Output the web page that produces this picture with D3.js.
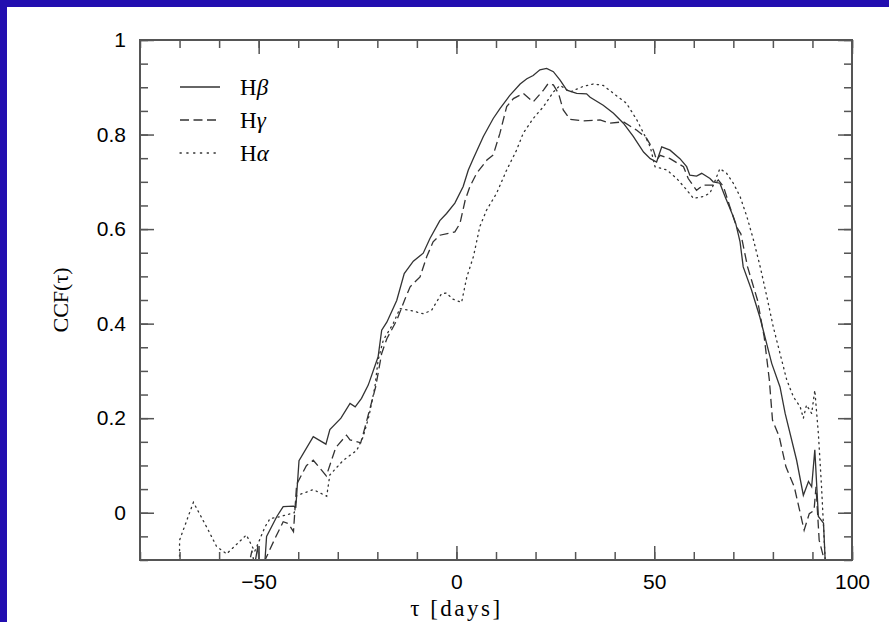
<!DOCTYPE html>
<html>
<head>
<meta charset="utf-8">
<script src="https://cdn.jsdelivr.net/npm/d3@7"></script>
<style>
  body { margin: 0; background: #220eb0; }
  svg { display: block; }
  .tick text { font-family: "Liberation Sans", Arial, sans-serif; font-size: 21px; fill: #000; }
  .tick line { stroke: #555; stroke-width: 1.5; }
  .domain { display: none; }
</style>
</head>
<body>
<div id="chart"></div>
<script>
// lag values (days) and CCF values, one pair of arrays per line
var hbLag = [-52, -50.2, -49.6, -48.4, -48.0, -45.4, -43.8, -41.2, -40.6, -39.8, -36.2, -33.0, -32.0, -29.2, -26.9, -25.6, -24.0, -22.3, -19.8, -18.9, -17.6, -15.1, -13.2, -10.9, -8.4, -6.7, -4.2, -2.5, -0.4, 1.7, 3.0, 4.3, 6.8, 9.3, 11.0, 13.5, 16.1, 17.8, 19.4, 21.1, 22.8, 24.5, 26.2, 27.9, 30.4, 32.9, 33.8, 37.1, 39.7, 42.2, 44.7, 47.3, 49.0, 50.6, 51.9, 54.0, 56.5, 58.2, 59.0, 60.7, 62.0, 64.1, 64.9, 66.6, 67.9, 70.0, 70.6, 71.7, 72.5, 74.6, 76.7, 79.7, 81.8, 83.1, 86.0, 87.7, 89.0, 89.8, 90.6, 91.5, 92.8, 93.2, 93.5];
var hbCcf = [-0.16, -0.07, -0.15, -0.10, -0.05, -0.008, 0.013, 0.014, 0.012, 0.11, 0.161, 0.145, 0.176, 0.2, 0.231, 0.224, 0.242, 0.27, 0.33, 0.386, 0.403, 0.449, 0.506, 0.532, 0.549, 0.58, 0.618, 0.633, 0.655, 0.69, 0.725, 0.75, 0.796, 0.834, 0.855, 0.883, 0.907, 0.918, 0.925, 0.937, 0.94, 0.933, 0.915, 0.894, 0.887, 0.886, 0.879, 0.862, 0.845, 0.824, 0.796, 0.763, 0.749, 0.742, 0.774, 0.767, 0.749, 0.732, 0.714, 0.712, 0.718, 0.707, 0.7, 0.697, 0.669, 0.626, 0.612, 0.573, 0.52, 0.471, 0.414, 0.316, 0.266, 0.21, 0.111, 0.037, 0.066, 0.055, 0.133, -0.008, -0.022, -0.097, -0.2];

var hgLag = [-53.5, -51.7, -50.5, -48.0, -45.9, -43.8, -42.5, -41.2, -40.4, -37.9, -36.2, -34.1, -32.9, -30.5, -27.8, -26.9, -24.2, -23.3, -20.4, -18.9, -17.6, -15.1, -13.0, -11.7, -9.2, -7.5, -5.9, -4.2, -0.4, 0.9, 2.2, 3.4, 5.1, 7.7, 9.3, 11.0, 12.7, 14.4, 16.9, 19.4, 22.0, 23.2, 24.5, 25.8, 27.0, 28.7, 32.1, 36.3, 38.8, 42.2, 45.6, 48.1, 49.8, 50.6, 51.5, 54.0, 57.4, 58.6, 60.7, 62.4, 64.9, 66.2, 67.5, 69.1, 70.8, 71.9, 73.6, 76.1, 77.8, 79.1, 79.9, 81.6, 83.3, 85.4, 87.9, 89.2, 90.4, 90.9, 91.7, 92.9, 93.2];
var hgCcf = [-0.15, -0.08, -0.14, -0.093, -0.055, -0.019, -0.023, -0.04, 0.06, 0.1, 0.111, 0.09, 0.078, 0.138, 0.164, 0.154, 0.148, 0.175, 0.267, 0.337, 0.368, 0.407, 0.452, 0.478, 0.499, 0.542, 0.573, 0.587, 0.594, 0.612, 0.661, 0.69, 0.718, 0.746, 0.757, 0.803, 0.859, 0.876, 0.887, 0.869, 0.894, 0.908, 0.905, 0.887, 0.852, 0.832, 0.829, 0.831, 0.824, 0.827, 0.809, 0.792, 0.767, 0.746, 0.756, 0.749, 0.732, 0.707, 0.682, 0.693, 0.693, 0.704, 0.69, 0.648, 0.605, 0.59, 0.52, 0.45, 0.372, 0.281, 0.196, 0.161, 0.097, 0.055, -0.037, -0.002, 0.005, 0.055, -0.058, -0.097, -0.2];

var haLag = [-70.0, -70.0, -66.5, -63.1, -60.6, -58.1, -53.1, -51.0, -48.4, -47.1, -45.4, -41.0, -40.4, -36.2, -32.8, -32.0, -28.6, -25.2, -23.6, -22.1, -20.6, -19.8, -18.5, -16.0, -14.3, -11.7, -8.4, -6.3, -3.8, -2.5, -1.0, 1.3, 2.6, 4.3, 5.9, 7.6, 10.1, 12.7, 15.2, 16.9, 19.4, 22.0, 24.5, 26.2, 28.7, 32.1, 34.6, 37.1, 39.7, 43.0, 45.6, 47.3, 49.0, 50.2, 53.2, 55.7, 58.2, 59.9, 62.4, 64.1, 65.8, 66.6, 68.3, 70.0, 71.7, 73.4, 75.1, 76.8, 78.4, 80.1, 81.8, 83.5, 85.2, 86.9, 87.7, 88.5, 89.8, 90.6, 91.5, 92.3, 93.2, 93.4];
var haCcf = [-0.15, -0.058, 0.022, -0.031, -0.072, -0.087, -0.047, -0.082, -0.03, -0.012, -0.01, 0.0, 0.036, 0.049, 0.035, 0.08, 0.111, 0.132, 0.16, 0.205, 0.267, 0.323, 0.365, 0.4, 0.432, 0.428, 0.421, 0.428, 0.463, 0.465, 0.452, 0.445, 0.498, 0.542, 0.605, 0.64, 0.675, 0.725, 0.767, 0.803, 0.834, 0.859, 0.89, 0.904, 0.89, 0.902, 0.907, 0.904, 0.887, 0.866, 0.831, 0.803, 0.774, 0.732, 0.725, 0.707, 0.683, 0.665, 0.669, 0.676, 0.711, 0.728, 0.718, 0.697, 0.669, 0.627, 0.577, 0.52, 0.46, 0.393, 0.337, 0.281, 0.245, 0.224, 0.2, 0.228, 0.21, 0.259, 0.167, 0.055, -0.097, -0.2];

var seriesNames = ["H\u03b2", "H\u03b3", "H\u03b1"];
var xMajor = [-50, 0, 50, 100];
var yMajor = [0, 0.2, 0.4, 0.6, 0.8, 1];

var W = 889, H = 622;
var margin = {top: 40, right: 37, bottom: 62, left: 140};
var width = W - margin.left - margin.right,
    height = H - margin.top - margin.bottom;

var dash = ["none", "9,4.5", "1.3,4.2"];

var svg = d3.select("#chart").append("svg")
    .attr("width", W)
    .attr("height", H);

svg.append("rect")
    .attr("x", 7).attr("y", 7)
    .attr("width", W - 7).attr("height", H - 7)
    .attr("fill", "#fff");

var g = svg.append("g")
    .attr("transform", "translate(" + margin.left + "," + margin.top + ")");

var x = d3.scaleLinear().domain([-80, 100]).range([0, width]);
var y = d3.scaleLinear().domain([-0.1, 1]).range([height, 0]);

g.append("clipPath").attr("id", "clip")
  .append("rect").attr("width", width).attr("height", height);

var series = [
  {lag: hbLag, ccf: hbCcf},
  {lag: hgLag, ccf: hgCcf},
  {lag: haLag, ccf: haCcf}
];

var line = d3.line()
    .x(function(d) { return x(d[0]); })
    .y(function(d) { return y(d[1]); });

g.selectAll(".ccf")
    .data(series)
  .enter().append("path")
    .attr("class", "ccf")
    .attr("clip-path", "url(#clip)")
    .attr("d", function(s) { return line(d3.zip(s.lag, s.ccf)); })
    .attr("fill", "none")
    .attr("stroke", "#333")
    .attr("stroke-width", 1.3)
    .attr("stroke-linecap", function(d, i) { return i == 2 ? "round" : "butt"; })
    .attr("stroke-dasharray", function(d, i) { return dash[i]; });

// minor ticks, all four sides
var xMinor = d3.range(-80, 101, 10), yMinor = d3.range(-0.1, 1.001, 0.05);
g.append("g").attr("transform", "translate(0," + height + ")")
  .call(d3.axisBottom(x).tickValues(xMinor).tickSize(-8).tickFormat(""));
g.append("g")
  .call(d3.axisTop(x).tickValues(xMinor).tickSize(-8).tickFormat(""));
g.append("g")
  .call(d3.axisLeft(y).tickValues(yMinor).tickSize(-8).tickFormat(""));
g.append("g").attr("transform", "translate(" + width + ",0)")
  .call(d3.axisRight(y).tickValues(yMinor).tickSize(-8).tickFormat(""));

// major ticks
g.append("g").attr("transform", "translate(0," + height + ")")
  .call(d3.axisBottom(x).tickValues(xMajor).tickSize(-14).tickPadding(14));
g.append("g")
  .call(d3.axisTop(x).tickValues(xMajor).tickSize(-14).tickFormat(""));
g.append("g")
  .call(d3.axisLeft(y).tickValues(yMajor).tickSize(-14).tickPadding(14)
    .tickFormat(function(d) { return d == 0 || d == 1 ? d3.format("d")(d) : d3.format(".1f")(d); }));
g.append("g").attr("transform", "translate(" + width + ",0)")
  .call(d3.axisRight(y).tickValues(yMajor).tickSize(-14).tickFormat(""));

g.append("rect")
    .attr("width", width).attr("height", height)
    .attr("fill", "none")
    .attr("stroke", "#555")
    .attr("stroke-width", 2);

// axis titles
g.append("text")
    .attr("x", x(0))
    .attr("y", height + 56)
    .attr("text-anchor", "middle")
    .style("font-family", "'Liberation Serif', serif")
    .style("font-size", "23px")
    .style("letter-spacing", "2.5px")
    .text("\u03c4  [days]");

g.append("text")
    .attr("transform", "translate(-72," + y(0.45) + ") rotate(-90)")
    .attr("text-anchor", "middle")
    .style("font-family", "'Liberation Serif', serif")
    .style("font-size", "22px")
    .text("CCF(\u03c4)");

// legend
var legend = g.selectAll(".legend")
    .data(seriesNames)
  .enter().append("g")
    .attr("class", "legend")
    .attr("transform", function(d, i) { return "translate(40," + (47 + i * 33) + ")"; });

legend.append("line")
    .attr("x1", 0).attr("x2", 40)
    .attr("stroke", "#333")
    .attr("stroke-width", 1.3)
    .attr("stroke-linecap", function(d, i) { return i == 2 ? "round" : "butt"; })
    .attr("stroke-dasharray", function(d, i) { return i == 2 ? "1.3,5.5" : dash[i]; });

legend.append("text")
    .attr("x", 60)
    .attr("dy", "0.35em")
    .style("font-family", "'Liberation Serif', serif")
    .style("font-size", "23px")
    .html(function(d) { return "H<tspan font-style='italic'>" + d.slice(1) + "</tspan>"; });
</script>
</body>
</html>
